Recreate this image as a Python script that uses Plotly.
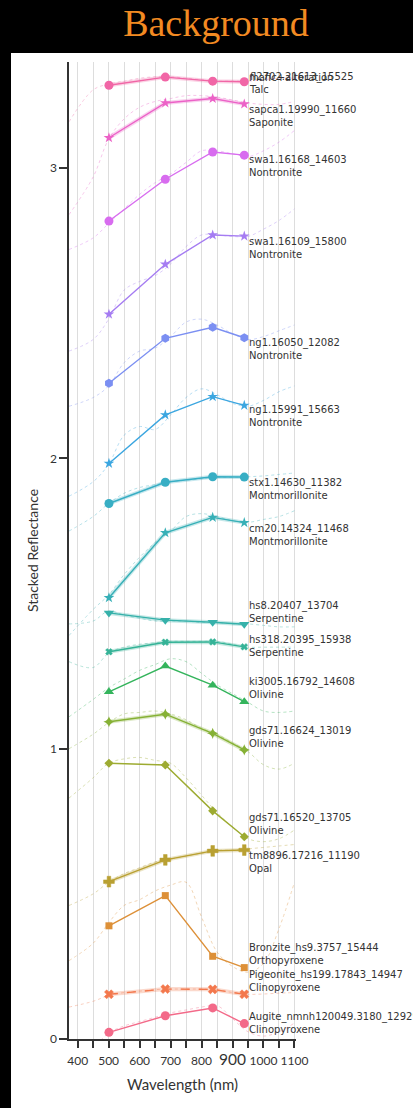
import plotly.graph_objects as go

# ---------------- data ----------------
band_wl = [501, 683, 836, 938]
spec_wl = [372, 450, 500, 550, 600, 650, 700, 750, 800, 850, 900, 950, 1000, 1050, 1100]

sample_ids = ["Augite_nmnh120049.3180_12929", "Pigeonite_hs199.17843_14947", "Bronzite_hs9.3757_15444",
              "tm8896.17216_11190", "gds71.16520_13705", "gds71.16624_13019", "ki3005.16792_14608",
              "hs318.20395_15938", "hs8.20407_13704", "cm20.14324_11468", "stx1.14630_11382",
              "ng1.15991_15663", "ng1.16050_12082", "swa1.16109_15800", "swa1.16168_14603",
              "sapca1.19990_11660", "fl2702.21613_15525"]
minerals = ["Clinopyroxene", "Clinopyroxene", "Orthopyroxene", "Opal", "Olivine", "Olivine", "Olivine",
            "Serpentine", "Serpentine", "Montmorillonite", "Montmorillonite", "Nontronite", "Nontronite",
            "Nontronite", "Nontronite", "Saponite", "Talc"]
group_label = "mafic+alteration"

# stacked band reflectance at band_wl
augite = [0.023, 0.080, 0.107, 0.053]
pigeonite = [0.154, 0.172, 0.171, 0.154]
bronzite = [0.390, 0.494, 0.285, 0.246]
opal = [0.542, 0.617, 0.648, 0.651]
olivine_16520 = [0.950, 0.944, 0.786, 0.697]
olivine_16624 = [1.093, 1.119, 1.053, 0.996]
olivine_ki3005 = [1.196, 1.285, 1.219, 1.162]
serpentine_hs318 = [1.334, 1.367, 1.368, 1.351]
serpentine_hs8 = [1.468, 1.443, 1.436, 1.429]
montm_cm20 = [1.520, 1.744, 1.797, 1.779]
montm_stx1 = [1.845, 1.918, 1.937, 1.936]
nontr_15991 = [1.983, 2.150, 2.213, 2.183]
nontr_16050 = [2.259, 2.414, 2.452, 2.416]
nontr_16109 = [2.497, 2.669, 2.770, 2.766]
nontr_16168 = [2.818, 2.962, 3.056, 3.045]
saponite = [3.105, 3.225, 3.240, 3.221]
talc = [3.286, 3.314, 3.300, 3.298]

# full-resolution stacked spectra at spec_wl
augite_spec = [-0.10, -0.03, 0.02, 0.045, 0.06, 0.075, 0.09, 0.10, 0.11, 0.115, 0.07, 0.025, 0.01, 0.025, 0.055]
pigeonite_spec = [0.11, 0.13, 0.15, 0.16, 0.165, 0.17, 0.172, 0.172, 0.172, 0.17, 0.16, 0.154, 0.155, 0.158, 0.16]
bronzite_spec = [0.27, 0.33, 0.40, 0.46, 0.48, 0.51, 0.53, 0.54, 0.42, 0.30, 0.25, 0.23, 0.26, 0.38, 0.54]
opal_spec = [0.46, 0.50, 0.54, 0.57, 0.59, 0.61, 0.62, 0.63, 0.64, 0.65, 0.65, 0.655, 0.66, 0.665, 0.67]
olivine_16520_spec = [0.83, 0.90, 0.95, 0.965, 0.97, 0.96, 0.95, 0.90, 0.84, 0.78, 0.73, 0.69, 0.68, 0.69, 0.72]
olivine_16624_spec = [1.00, 1.05, 1.09, 1.12, 1.125, 1.13, 1.12, 1.10, 1.07, 1.05, 1.02, 0.99, 0.945, 0.93, 0.95]
olivine_ki3005_spec = [1.11, 1.17, 1.21, 1.24, 1.27, 1.29, 1.31, 1.30, 1.26, 1.22, 1.19, 1.16, 1.13, 1.125, 1.13]
serpentine_hs318_spec = [1.30, 1.28, 1.33, 1.35, 1.36, 1.365, 1.37, 1.37, 1.37, 1.37, 1.36, 1.35, 1.35, 1.35, 1.35]
serpentine_hs8_spec = [1.43, 1.44, 1.475, 1.46, 1.45, 1.44, 1.44, 1.44, 1.435, 1.435, 1.43, 1.43, 1.425, 1.42, 1.42]
montm_cm20_spec = [1.39, 1.48, 1.53, 1.60, 1.66, 1.71, 1.75, 1.80, 1.81, 1.80, 1.785, 1.78, 1.79, 1.80, 1.82]
montm_stx1_spec = [1.75, 1.80, 1.845, 1.88, 1.90, 1.91, 1.92, 1.925, 1.93, 1.935, 1.935, 1.937, 1.94, 1.945, 1.95]
nontr_15991_spec = [1.87, 1.92, 1.98, 2.08, 2.11, 2.10, 2.15, 2.21, 2.24, 2.22, 2.19, 2.18, 2.20, 2.23, 2.25]
nontr_16050_spec = [2.18, 2.21, 2.25, 2.33, 2.37, 2.38, 2.42, 2.47, 2.48, 2.46, 2.43, 2.41, 2.42, 2.44, 2.46]
nontr_16109_spec = [2.37, 2.41, 2.48, 2.58, 2.61, 2.63, 2.67, 2.73, 2.77, 2.77, 2.765, 2.765, 2.79, 2.82, 2.86]
nontr_16168_spec = [2.72, 2.76, 2.81, 2.86, 2.91, 2.95, 2.98, 3.02, 3.06, 3.06, 3.05, 3.04, 3.06, 3.09, 3.13]
saponite_spec = [2.84, 2.97, 3.10, 3.17, 3.21, 3.23, 3.24, 3.25, 3.25, 3.245, 3.235, 3.225, 3.22, 3.22, 3.23]
talc_spec = [3.16, 3.27, 3.29, 3.30, 3.31, 3.315, 3.315, 3.31, 3.305, 3.30, 3.30, 3.30, 3.305, 3.31, 3.31]

x_tickvals = list(range(400, 1101, 50))
x_ticklabels = ["400", "", "500", "", "600", "", "700", "", "800", "", "<span style='font-size:15.5px'>900</span>", "",
                "1000", "", "1100"]
y_tickvals = [0, 1, 2, 3]

band_series = [augite, pigeonite, bronzite, opal, olivine_16520, olivine_16624, olivine_ki3005,
               serpentine_hs318, serpentine_hs8, montm_cm20, montm_stx1, nontr_15991, nontr_16050,
               nontr_16109, nontr_16168, saponite, talc]
spec_series = [augite_spec, pigeonite_spec, bronzite_spec, opal_spec, olivine_16520_spec, olivine_16624_spec,
               olivine_ki3005_spec, serpentine_hs318_spec, serpentine_hs8_spec, montm_cm20_spec,
               montm_stx1_spec, nontr_15991_spec, nontr_16050_spec, nontr_16109_spec, nontr_16168_spec,
               saponite_spec, talc_spec]

# ---------------- styles ----------------
colors = ["#f36a89", "#f3784d", "#dd9038", "#b9a032", "#9dab31", "#86b135", "#34b45c",
          "#35b397", "#36b1aa", "#37b0b7", "#38aec4", "#3ba6e0", "#7b8ff2", "#a57cf2",
          "#d86cef", "#ec62c7", "#f166a6"]
symbols = ["circle", "x", "square", "cross", "diamond", "star-diamond", "triangle-up", "x",
           "triangle-down", "star", "circle", "star", "hexagon", "star", "circle", "star", "circle"]
msizes = [9, 8, 7, 9, 7, 8, 9, 6, 9, 8, 9, 8, 9, 8, 9, 8, 9]
dashes = ["solid", "dash", "solid", "solid", "solid", "solid", "solid", "solid", "solid", "solid",
          "solid", "solid", "solid", "solid", "solid", "solid", "solid"]
banded = [False, True, False, True, False, True, False, True, True, True, True, False, False,
          False, False, True, True]
label_yshift = [0.7, 13.2, 13.4, -12, 12.7, 13, 13.7, 1, 12.3, -12, -12, -11, -11.3, -12, -11.3,
                -11.5, -1.3]

TXT = "#333333"
FONT = "Lato"
LABEL_FONT = "DejaVu Sans"

fig = go.Figure()

for i in range(len(sample_ids)):
    c = colors[i]
    fig.add_trace(go.Scatter(x=spec_wl, y=spec_series[i], mode="lines",
                             line=dict(color=c, width=0.9, dash="dot", shape="spline"),
                             opacity=0.4, hoverinfo="skip"))
    if banded[i]:
        fig.add_trace(go.Scatter(x=band_wl, y=band_series[i], mode="lines",
                                 line=dict(color=c, width=4), opacity=0.28, hoverinfo="skip"))
    fig.add_trace(go.Scatter(x=band_wl, y=band_series[i], mode="lines+markers",
                             line=dict(color=c, width=1.4, dash=dashes[i]),
                             marker=dict(symbol=symbols[i], size=msizes[i], color=c,
                                         line=dict(width=0.5 if symbols[i] in ("x", "cross") else 0, color=c)),
                             name=sample_ids[i]))

annotations = []
for i in range(len(sample_ids)):
    annotations.append(dict(x=band_wl[-1], y=band_series[i][-1], xref="x", yref="y",
                            text=f"{sample_ids[i]}<br>{minerals[i]}", showarrow=False,
                            xanchor="left", yanchor="middle", align="left", xshift=3,
                            yshift=label_yshift[i], font=dict(family=LABEL_FONT, size=10, color=TXT)))
annotations.append(dict(x=band_wl[-1], y=talc[-1], xref="x", yref="y", text=group_label,
                        showarrow=False, xanchor="left", yanchor="middle", align="left", xshift=3,
                        yshift=4.5, font=dict(family=LABEL_FONT, size=10, color=TXT)))

fig.update_layout(
    width=413, height=1108,
    margin=dict(l=69, r=117, t=62, b=69),
    paper_bgcolor="black", plot_bgcolor="white",
    showlegend=False,
    title=dict(text="Background", x=216 / 413, xanchor="center", y=1 - 23 / 1108, yanchor="middle",
               font=dict(family="Liberation Serif", size=38, color="#f28a22")),
    shapes=[dict(type="rect", xref="paper", yref="paper", x0=(11 - 69) / 227, x1=(413 - 69) / 227,
                 y0=-69 / 977, y1=986 / 977, fillcolor="white", line=dict(width=0), layer="below")],
    annotations=annotations,
    xaxis=dict(range=[372, 1105], tickmode="array", tickvals=x_tickvals, ticktext=x_ticklabels,
               ticks="outside", ticklen=7, tickwidth=1.5, tickcolor=TXT, ticklabelstandoff=3,
               showline=True, linecolor=TXT, linewidth=1.5, showgrid=True, gridcolor="#dddddd",
               gridwidth=1, zeroline=False,
               tickfont=dict(family=FONT, size=12, color=TXT),
               title=dict(text="Wavelength (nm)", font=dict(family=FONT, size=15, color=TXT), standoff=12)),
    yaxis=dict(range=[0, 3.366], tickmode="array", tickvals=y_tickvals, ticks="outside", ticklen=8,
               tickwidth=1.5, tickcolor=TXT, showline=True, linecolor=TXT, linewidth=1.5,
               showgrid=False, zeroline=False,
               tickfont=dict(family=FONT, size=12, color=TXT),
               title=dict(text="Stacked Reflectance", font=dict(family=FONT, size=14, color=TXT), standoff=8)),
)

fig.write_html("out.html")
